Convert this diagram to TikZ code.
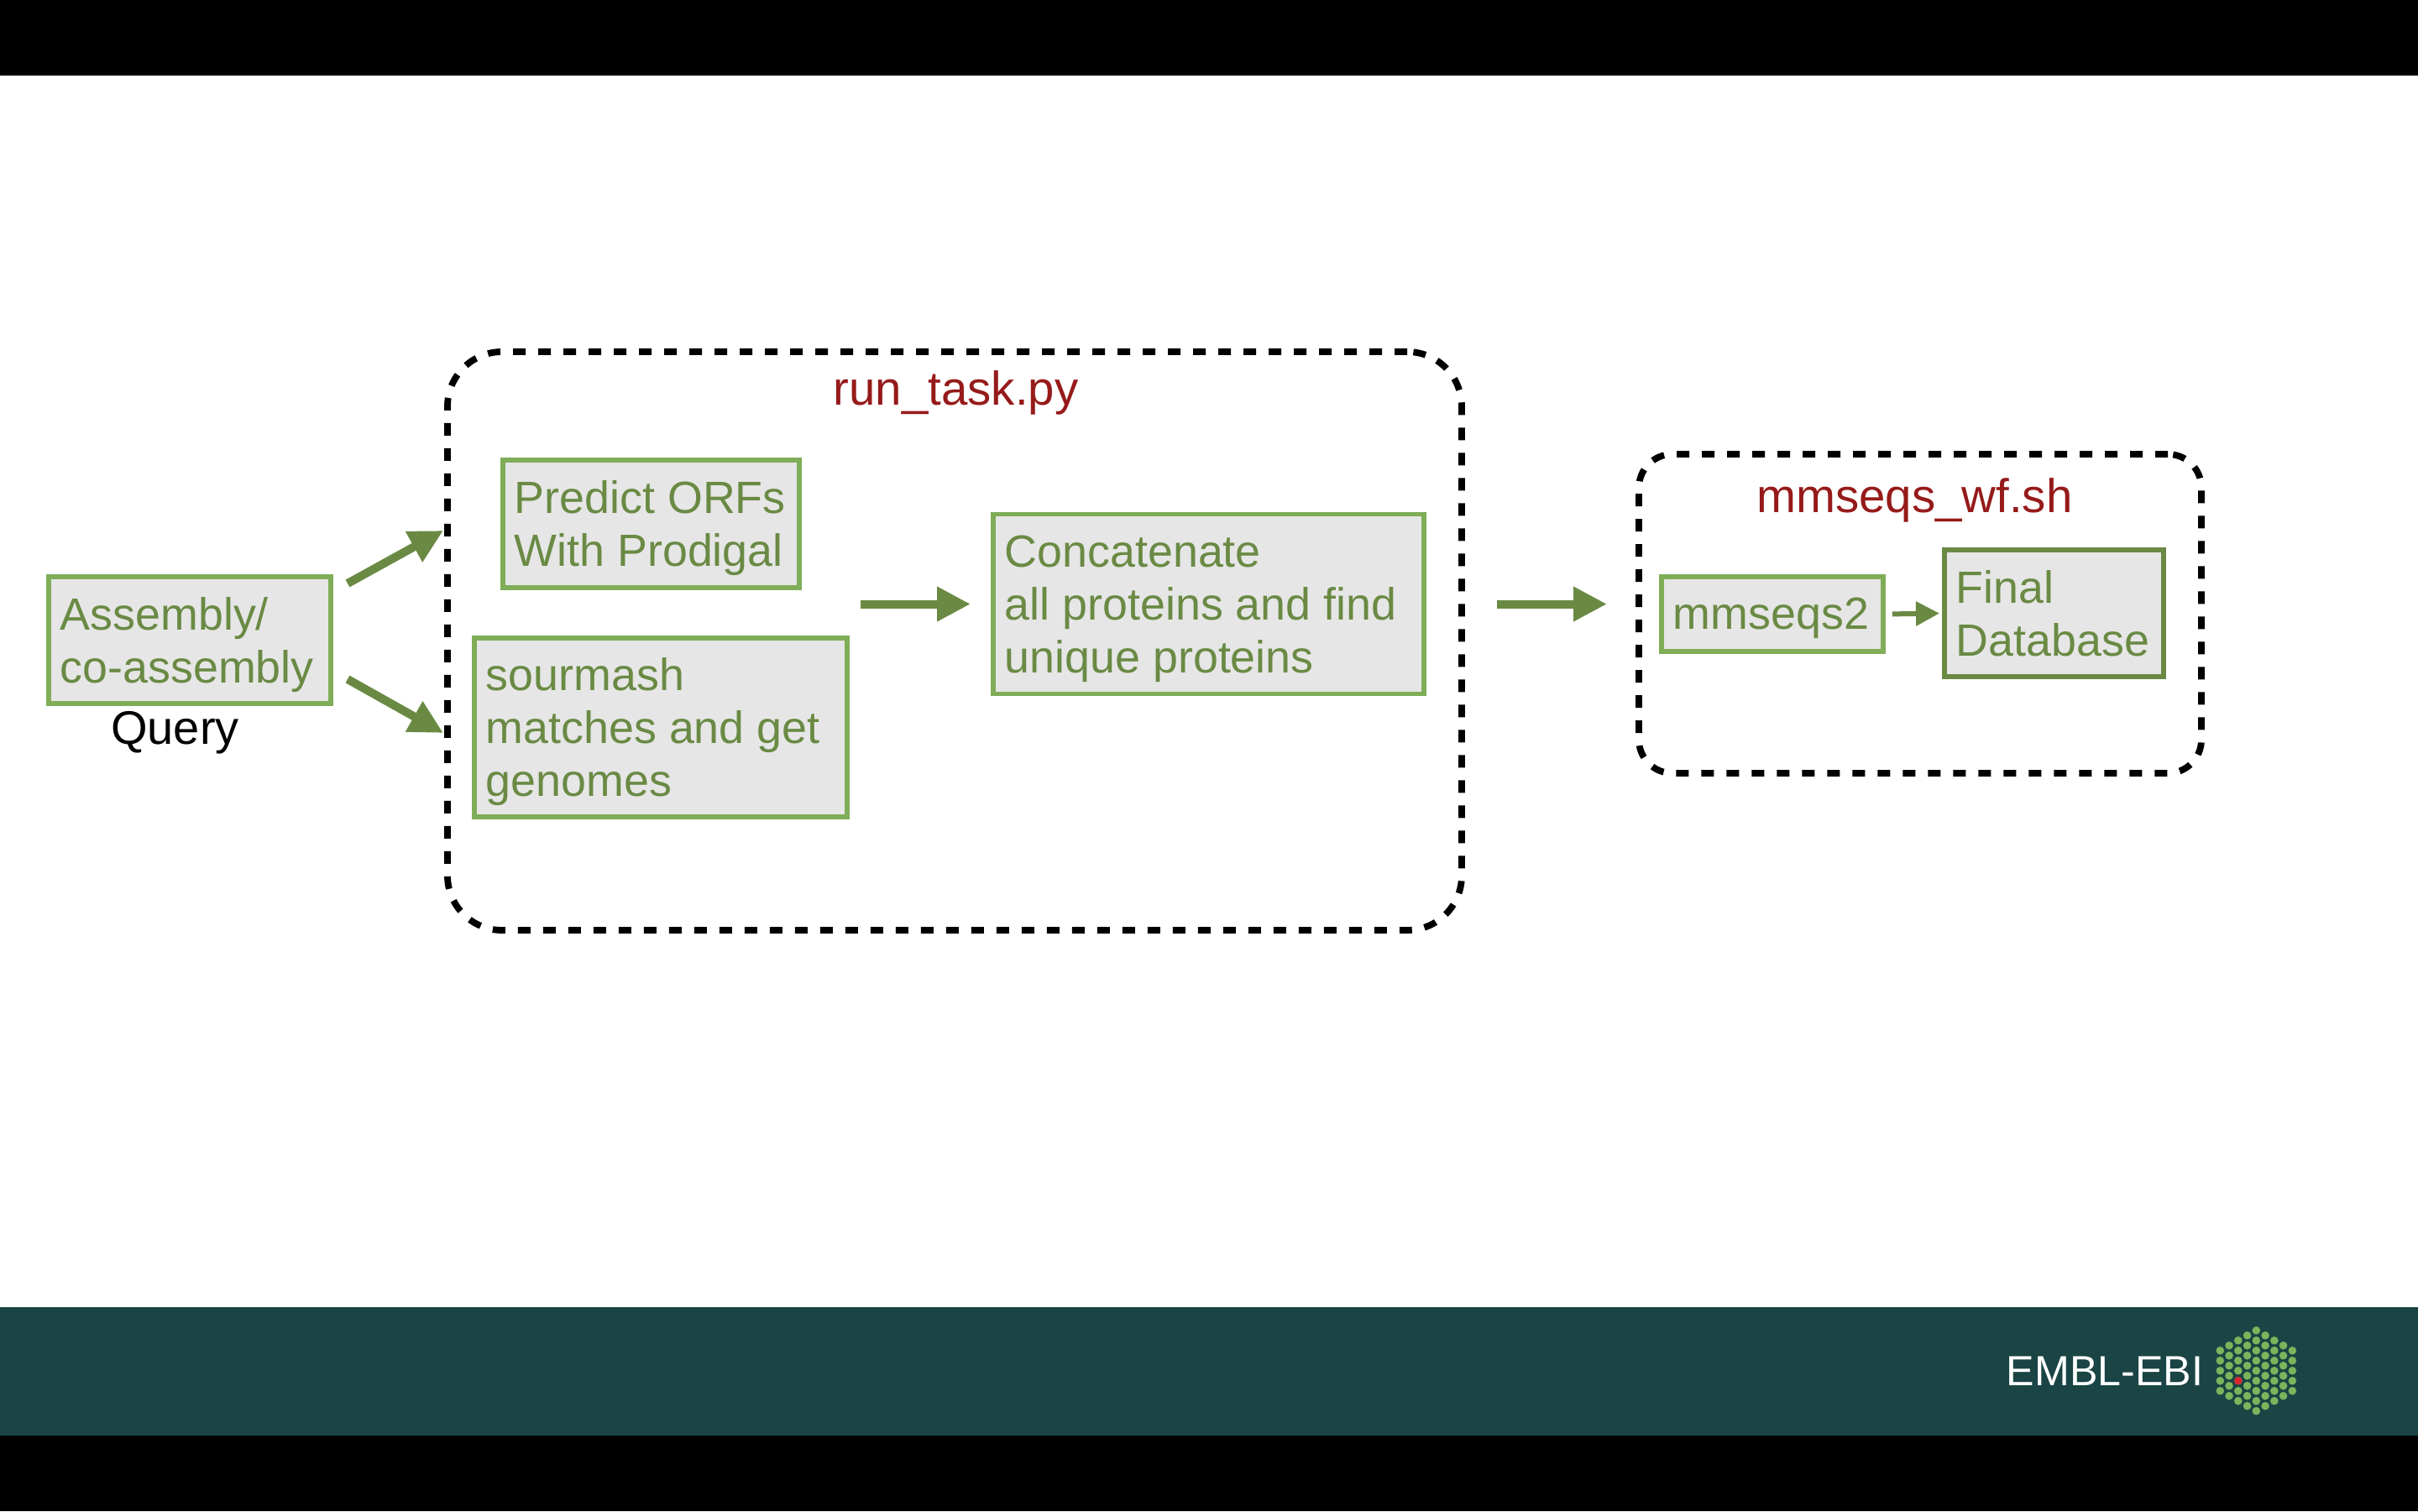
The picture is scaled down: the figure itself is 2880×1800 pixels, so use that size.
\documentclass[tikz,border=0pt]{standalone}
\usepackage{fontspec}
\setmainfont{Liberation Sans}
\usetikzlibrary{arrows.meta}
\definecolor{boxline}{HTML}{7FAD58}
\definecolor{boxfill}{HTML}{E6E6E6}
\definecolor{leaf}{HTML}{6A8A44}
\definecolor{scriptred}{HTML}{961A1A}
\definecolor{bandteal}{HTML}{1B4444}
\definecolor{dotgreen}{HTML}{7AB55C}
\definecolor{dotred}{HTML}{D9252F}
\tikzset{
  x=0.25pt,y=-0.25pt,
  stepbox/.style={draw=boxline,fill=boxfill,line width=1.4pt,text=leaf,align=left,
    inner xsep=3.45pt,inner ysep=0pt,font=\fontsize{13.45}{15.75}\selectfont,
    execute at begin node={\spaceskip=.278em\relax}},
  firstline/.style={execute at begin node={\rule{0pt}{#1}}},
  container/.style={draw=black,line width=1.95pt,dash pattern=on 3.75pt off 3.75pt},
  scripttitle/.style={text=scriptred,anchor=base,inner sep=0pt,font=\fontsize{14.1}{16}\selectfont},
  flow/.style={draw=leaf,line width=2.5pt,-{Triangle[length=10pt,width=9.75pt]}},
  flowsmall/.style={draw=leaf,line width=1.5pt,-{Triangle[length=7pt,width=7pt]}},
}
\begin{document}
\begin{tikzpicture}
\useasboundingbox (0,0) rectangle (2880,1800);
\fill[white] (0,0) rectangle (2880,1800);
\fill[black] (0,0) rectangle (2880,90);
\fill[black] (0,1710) rectangle (2880,1800);
\fill[bandteal] (0,1557) rectangle (2880,1710);

% containers
\node[container,rounded corners=16.25pt,minimum width=302pt,minimum height=172.25pt] (runbox) at (1137,763.5) {};
\node[container,rounded corners=10pt,minimum width=167.5pt,minimum height=95pt] (wfbox) at (2287,731) {};
\node[scripttitle] (runtitle) at (1138.5,482) {run\_task.py};
\node[scripttitle] (wftitle) at (2280.5,610) {mmseqs\_wf.sh};

% steps
\node[stepbox,firstline=12.3pt,text width=77.1pt,minimum height=37.75pt] (assembly) at (226,762.5) {Assembly/\\co-assembly};
\node[anchor=base,inner sep=0pt,text=black,font=\fontsize{14}{16}\selectfont] (query) at (208.5,886.6) {Query};
\node[stepbox,firstline=12.05pt,text width=81.35pt,minimum height=38pt] (predict) at (775.5,624) {Predict ORFs\\With Prodigal};
\node[stepbox,firstline=12.05pt,text width=104.1pt,minimum height=53.25pt] (sourmash) at (787,866.5) {sourmash\\matches and get\\genomes};
\node[stepbox,firstline=12.05pt,text width=121.35pt,minimum height=53.5pt] (concat) at (1439.5,719.5) {Concatenate\\all proteins and find\\unique proteins};
\node[stepbox,firstline=11.55pt,text width=59.1pt,minimum height=22.25pt] (mmseqs) at (2111,731.5) {mmseqs2};
\node[stepbox,draw=leaf,line width=1.5pt,text width=58.35pt,minimum height=37.75pt] (final) at (2446.5,730.5) {Final\\Database};

% connectors
\coordinate (upfrom) at (414,695);
\coordinate (upto) at (528,632);
\coordinate (downfrom) at (414,809);
\coordinate (downto) at (528,873);
\coordinate (midfrom) at (1025,719.5);
\coordinate (midto) at (1156,719.5);
\coordinate (outfrom) at (1783,719.5);
\coordinate (outto) at (1914,719.5);
\draw[flow] (upfrom) -- (upto);
\draw[flow] (downfrom) -- (downto);
\draw[flow] (midfrom) -- (midto);
\draw[flow] (outfrom) -- (outto);
\draw[flowsmall,shorten <=2pt,shorten >=0.75pt] (mmseqs.east) -- (final.west);

% logo
\node[anchor=base west,inner sep=0pt,text=white,font=\fontsize{12.55}{14}\selectfont] (embl) at (2389,1650.7) {EMBL-EBI};
\foreach \c/\n in {-4/5,-3/6,-2/7,-1/8,0/9,1/8,2/7,3/6,4/5}{
  \foreach \k in {1,...,\n}{
    \fill[dotgreen] ({2687.3+10.75*\c},{1632.7+12*(\k-(\n+1)/2)}) circle[radius=4.8];
  }
}
\fill[dotred] ({2687.3-21.5},{1632.7+12}) circle[radius=4.8];
\end{tikzpicture}
\end{document}
